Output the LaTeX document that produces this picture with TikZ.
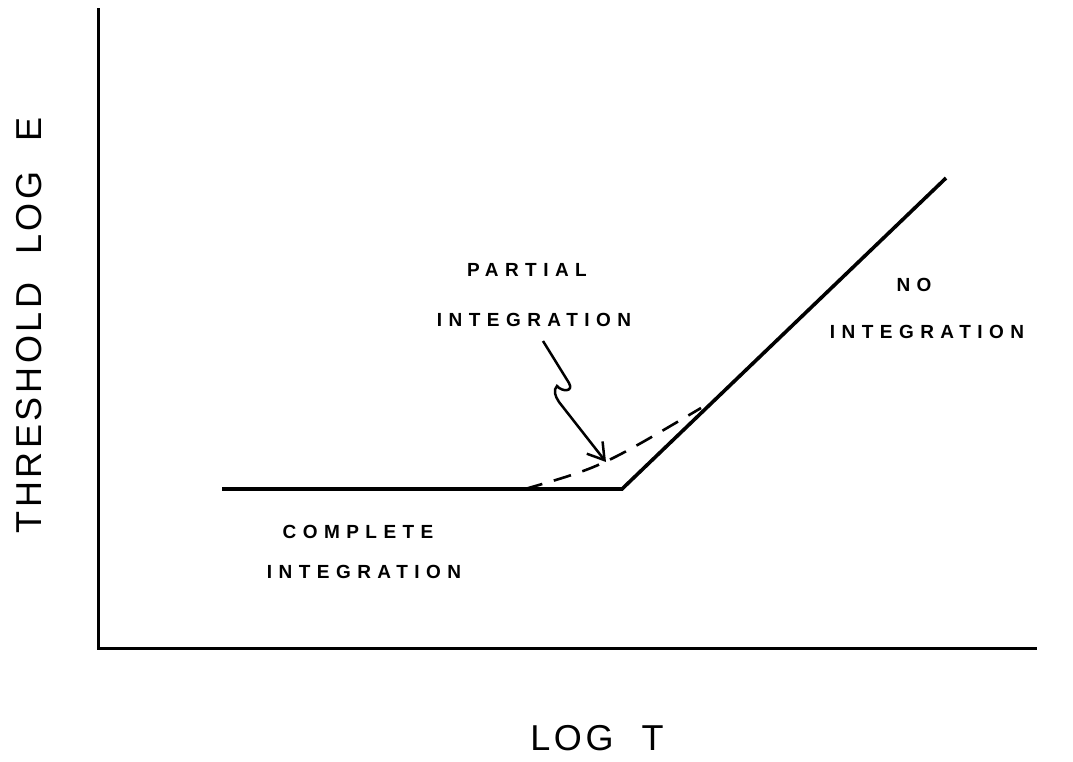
\documentclass[tikz,border=0pt]{standalone}
\usepackage{fontspec}
\setmainfont{Liberation Sans}
\newfontfamily\lblfont[LetterSpace=34]{Liberation Sans}
\newfontfamily\axfont[LetterSpace=10]{Liberation Sans}
\usetikzlibrary{arrows.meta}
\begin{document}
\begin{tikzpicture}[x=1pt,y=-1pt,
  axisline/.style={line width=3pt,line cap=rect},
  plotline/.style={line width=3.6pt,line join=miter},
  dashline/.style={line width=2.6pt,dash pattern=on 18pt off 12pt},
  pointer/.style={line width=2.5pt,-{Straight Barb[length=16pt,width=20pt,line width=2.5pt]}},
  lbl/.style={font=\lblfont\bfseries\fontsize{19}{21}\selectfont,inner sep=0pt},
  axlbl/.style={font=\axfont\fontsize{36}{40}\selectfont,inner sep=0pt}]
\useasboundingbox (0,0) rectangle (1073,761);
\fill[white] (0,0) rectangle (1073,761);
% axes
\coordinate (ytop) at (98,9);
\coordinate (orig) at (98,648);
\coordinate (xend) at (1035,648);
\draw[axisline] (ytop) -- (orig) -- (xend);
% plot
\coordinate (a) at (222,489);
\coordinate (knee) at (622,489);
\coordinate (b) at (946,178);
\draw[plotline] (a) -- (knee) -- (b);
\coordinate (d0) at (525,489);
\coordinate (d1) at (701,408);
\draw[dashline] (d0) .. controls (601,467) .. (d1);
% pointer
\coordinate (s0) at (543,341);
\coordinate (s1) at (569,383);
\coordinate (tip) at (606,462);
\draw[pointer] (s0) -- (s1) .. controls (574,392) and (562,392) .. (557,386) .. controls (553,390) and (555,396) .. (559,402) -- (tip);
% labels
\node[lbl] (partial) at (527,270) {PARTIAL};
\node[lbl] (pint) at (534,320) {INTEGRATION};
\node[lbl] (no) at (914,285) {NO};
\node[lbl] (nint) at (927,332) {INTEGRATION};
\node[lbl] (comp) at (358,532) {COMPLETE};
\node[lbl] (cint) at (364,572) {INTEGRATION};
\node[axlbl,rotate=90] (ylab) at (29.5,325.5) {THRESHOLD\hspace{28pt}LOG\hspace{30pt}E};
\node[axlbl] (xlab) at (597,738.5) {LOG\hspace{28pt}T};
\end{tikzpicture}
\end{document}
